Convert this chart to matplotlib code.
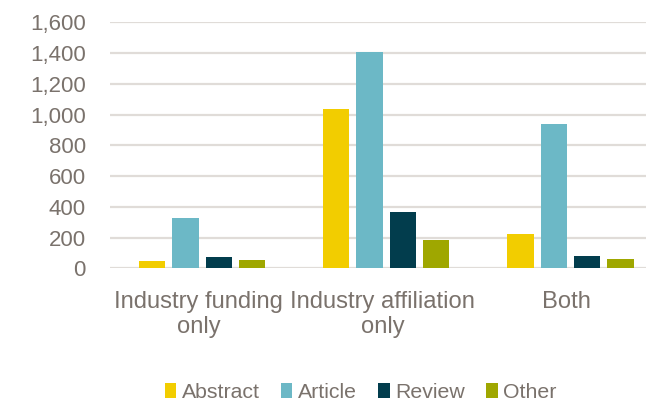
import numpy as np
import matplotlib.pyplot as plt

categories = ['Industry funding\nonly', 'Industry affiliation\nonly', 'Both']
series_names = ['Abstract', 'Article', 'Review', 'Other']
abstract = [47, 1035, 223]
article = [330, 1410, 937]
review = [76, 367, 82]
other = [52, 185, 60]
yticks = [0, 200, 400, 600, 800, 1000, 1200, 1400, 1600]

colors = ['#f2cd00', '#6cb8c6', '#023d4d', '#9fa700']
text_color = '#7a726c'
grid_color = '#e0dcd8'

plt.rcParams['font.family'] = ['Liberation Sans', 'DejaVu Sans']

fig = plt.figure(figsize=(6.46, 4.0), dpi=100)
ax = fig.add_axes([110 / 646, 0.329, 552.6 / 646, 0.944 - 0.329])

x = np.arange(len(categories))
width = 0.143
pitch = 0.181
for i, (name, vals) in enumerate(zip(series_names, [abstract, article, review, other])):
    ax.bar(x + (i - 1.5) * pitch, vals, width, color=colors[i], label=name, zorder=3)

ax.set_xlim(-0.5, 2.5)
ax.set_ylim(0, 1600)
ax.set_yticks(yticks)
ax.set_yticklabels([f'{v:,}' for v in yticks])
ax.set_xticks(x - 0.02)
ax.set_xticklabels(categories, linespacing=1.17)
ax.tick_params(axis='both', length=0, colors=text_color)
ax.tick_params(axis='y', pad=17.3, labelsize=16)
ax.tick_params(axis='x', pad=16.5, labelsize=17.1)
ax.grid(axis='y', color=grid_color, linewidth=1.6, zorder=0)
for s in ax.spines.values():
    s.set_visible(False)

# legend below the category labels
fig.legend(loc='center', bbox_to_anchor=(0.558, 1 - 392 / 400), ncol=4, frameon=False,
           fontsize=15.3, labelcolor=text_color, handlelength=0.55, handleheight=0.7,
           handletextpad=0.25, columnspacing=1.0)

fig.savefig('out.png', dpi=100)
